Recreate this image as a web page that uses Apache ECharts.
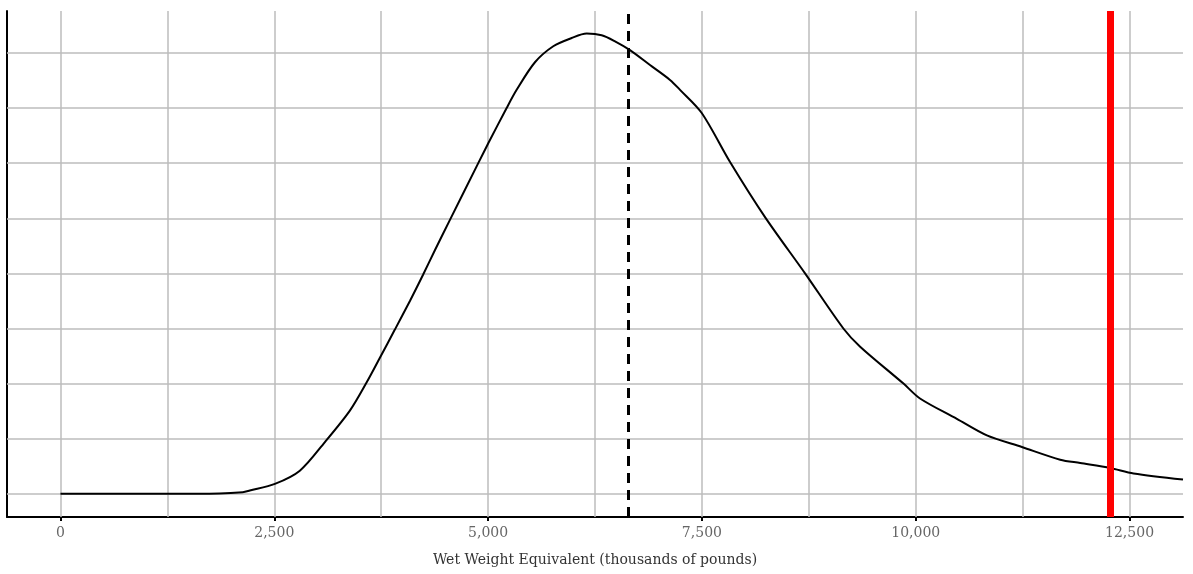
<!DOCTYPE html>
<html>
<head>
<meta charset="utf-8">
<script src="https://cdn.jsdelivr.net/npm/echarts@6/dist/echarts.min.js"></script>
<style>
  html, body { margin: 0; padding: 0; background: #fff; }
  #chart { width: 1193px; height: 574px; }
</style>
</head>
<body>
<div id="chart"></div>
<script>
// density curve (x in thousands of pounds, y in grid units)
const weightValues = [0, 1000, 1630, 2132, 2214, 2507, 2799, 3092, 3384, 3579, 3735, 3910, 4086, 4241, 4378, 4554,
  4885, 5002, 5217, 5334, 5548, 5762, 5977, 6153, 6328, 6484, 6659, 6893, 7127, 7244, 7498, 7829, 8238,
  8706, 9154, 9350, 9857, 10050, 10481, 10832, 11241, 11689, 11923, 12274, 12547, 13125];
const densityValues = [0, 0, 0, 0.03, 0.06, 0.18, 0.42, 0.94, 1.51, 2.02, 2.47, 2.98, 3.5, 3.98, 4.42, 4.97,
  6.0, 6.36, 7.0, 7.33, 7.83, 8.12, 8.27, 8.35, 8.32, 8.21, 8.05, 7.78, 7.51, 7.33, 6.91, 6.02, 5.02,
  4.0, 3.0, 2.67, 2.0, 1.73, 1.36, 1.06, 0.85, 0.62, 0.56, 0.47, 0.37, 0.26];

const xTickLabels = [0, 2500, 5000, 7500, 10000, 12500];
const xGridValues = [0, 1250, 2500, 3750, 5000, 6250, 7500, 8750, 10000, 11250, 12500];
const yGridValues = [0, 1, 2, 3, 4, 5, 6, 7, 8];
const meanValue = 6640;
const observedValue = 12270;

const chart = echarts.init(document.getElementById('chart'));

const gridStyle = { color: '#bdbdbd', width: 1.5, type: 'solid' };

const option = {
  animation: false,
  grid: { left: 7, right: 10, top: 11, bottom: 57 },
  xAxis: {
    type: 'value',
    min: -625,
    max: 13125,
    name: 'Wet Weight Equivalent (thousands of pounds)',
    nameLocation: 'middle',
    nameGap: 36,
    nameTextStyle: { fontFamily: 'DejaVu Serif', fontSize: 14, color: '#333' },
    axisLine: { onZero: false, lineStyle: { color: '#000', width: 2 } },
    axisTick: { show: true, length: 4, customValues: xTickLabels, lineStyle: { color: '#000', width: 2 } },
    axisLabel: {
      customValues: xTickLabels,
      margin: 9,
      fontFamily: 'DejaVu Serif',
      fontSize: 14,
      color: '#666',
      formatter: (v) => v.toLocaleString('en-US')
    },
    splitLine: { show: false }
  },
  yAxis: {
    type: 'value',
    min: -0.42,
    max: 8.76,
    axisLine: { show: true, onZero: false, lineStyle: { color: '#000', width: 2 } },
    axisTick: { show: false },
    axisLabel: { show: false },
    splitLine: { show: false }
  },
  series: [
    {
      type: 'line',
      data: [],
      silent: true,
      markLine: {
        z: 1,
        silent: true,
        symbol: ['none', 'none'],
        label: { show: false },
        lineStyle: gridStyle,
        data: xGridValues.map((v) => ({ xAxis: v })).concat(yGridValues.map((v) => ({ yAxis: v })))
      }
    },
    {
      type: 'line',
      z: 3,
      showSymbol: false,
      smooth: 0.3,
      lineStyle: { color: '#000', width: 2 },
      data: weightValues.map((w, i) => [w, densityValues[i]]),
      markLine: {
        z: 5,
        silent: true,
        symbol: ['none', 'none'],
        label: { show: false },
        data: [
          { xAxis: meanValue, lineStyle: { color: '#000', width: 3, type: [10, 7] } },
          { xAxis: observedValue, lineStyle: { color: '#ff0000', width: 7, type: 'solid' } }
        ]
      }
    }
  ]
};

chart.setOption(option);
</script>
</body>
</html>
